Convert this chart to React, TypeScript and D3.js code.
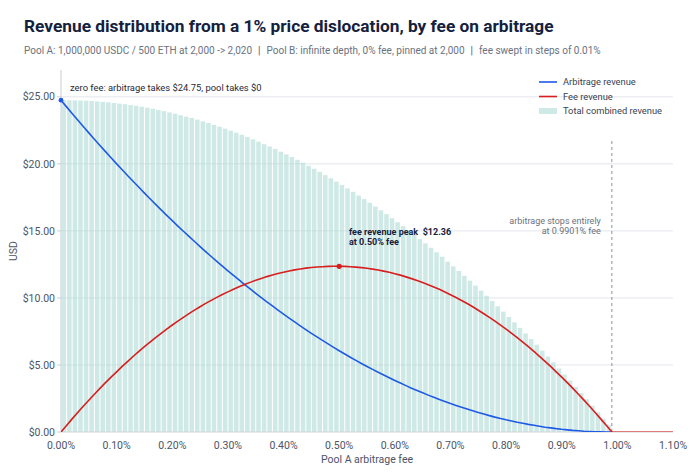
import React, { useEffect } from 'react';
import * as d3 from 'd3';

// swept fee grid, percent (0.00% .. 0.99% in 0.01% steps)
const feeSteps: number[] = d3.range(0, 100).map((i) => i / 100);

// USD captured by the arbitrageur at each fee step
const arbRevenue: number[] = [
  24.75, 24.25, 23.76, 23.27, 22.79, 22.31, 21.84, 21.37, 20.91, 20.45,
  20.0, 19.56, 19.11, 18.68, 18.25, 17.82, 17.4, 16.98, 16.57, 16.16,
  15.76, 15.36, 14.97, 14.59, 14.21, 13.83, 13.46, 13.09, 12.73, 12.37,
  12.02, 11.68, 11.34, 11.0, 10.67, 10.34, 10.02, 9.71, 9.4, 9.09,
  8.79, 8.5, 8.21, 7.92, 7.64, 7.36, 7.09, 6.83, 6.57, 6.31,
  6.06, 5.82, 5.58, 5.34, 5.11, 4.89, 4.67, 4.46, 4.25, 4.04,
  3.84, 3.65, 3.46, 3.27, 3.09, 2.92, 2.75, 2.59, 2.43, 2.27,
  2.12, 1.98, 1.84, 1.71, 1.58, 1.46, 1.34, 1.22, 1.11, 1.01,
  0.91, 0.82, 0.73, 0.65, 0.57, 0.5, 0.43, 0.36, 0.31, 0.25,
  0.2, 0.16, 0.12, 0.09, 0.06, 0.04, 0.02, 0.01, 0.0, 0.0,
];

// USD collected by Pool A as fees at each fee step
const feeRevenue: number[] = [
  0.0, 0.49, 0.98, 1.45, 1.92, 2.37, 2.82, 3.25, 3.68, 4.09,
  4.49, 4.89, 5.27, 5.65, 6.01, 6.36, 6.71, 7.04, 7.36, 7.68,
  7.98, 8.27, 8.55, 8.83, 9.09, 9.34, 9.59, 9.82, 10.04, 10.25,
  10.45, 10.65, 10.83, 11.0, 11.16, 11.31, 11.45, 11.59, 11.71, 11.82,
  11.92, 12.01, 12.09, 12.16, 12.22, 12.27, 12.31, 12.33, 12.35, 12.36,
  12.36, 12.35, 12.33, 12.3, 12.26, 12.21, 12.15, 12.08, 12.0, 11.91,
  11.81, 11.7, 11.57, 11.44, 11.3, 11.15, 10.99, 10.82, 10.64, 10.44,
  10.24, 10.03, 9.81, 9.58, 9.34, 9.08, 8.82, 8.55, 8.27, 7.97,
  7.67, 7.36, 7.04, 6.7, 6.36, 6.01, 5.64, 5.27, 4.89, 4.49,
  4.09, 3.68, 3.25, 2.82, 2.38, 1.92, 1.46, 0.98, 0.5, 0.01,
];

const stopFee = 0.9901;
const axisEndFee = 1.1;
const peakIndex = 50;

const xTicks: number[] = [0, 0.1, 0.2, 0.3, 0.4, 0.5, 0.6, 0.7, 0.8, 0.9, 1.0, 1.1];
const yTicks: number[] = [0, 5, 10, 15, 20, 25];

const legendItems = [
  { label: 'Arbitrage revenue', kind: 'line', color: '#1f5ae6' },
  { label: 'Fee revenue', kind: 'line', color: '#d81e1e' },
  { label: 'Total combined revenue', kind: 'bar', color: '#a3d6cf' },
];

const W = 690;
const H = 474;
const margin = { top: 70, right: 17, bottom: 42, left: 61 };
const FONT = "Roboto, 'Noto Sans', sans-serif";

export default function App() {
  useEffect(() => {
    document.body.style.margin = '0';
  }, []);

  const x = d3.scaleLinear().domain([0, axisEndFee]).range([margin.left, W - margin.right]);
  const y = d3.scaleLinear().domain([0, 27]).range([H - margin.bottom, margin.top]);

  const total = feeSteps.map((f, i) => ({ f, v: arbRevenue[i] + feeRevenue[i] }));
  const step = x(0.01) - x(0);

  const arbPts: [number, number][] = feeSteps.map((f, i) => [f, arbRevenue[i]]);
  arbPts.push([stopFee, 0]);
  const feePts: [number, number][] = feeSteps.map((f, i) => [f, feeRevenue[i]]);
  feePts.push([stopFee, 0]);
  const feeTail: [number, number][] = [
    [stopFee, 0],
    [axisEndFee, 0],
  ];

  const line = d3
    .line<[number, number]>()
    .x((d) => x(d[0]))
    .y((d) => y(d[1]));

  const y0 = y(0);
  const fmtX = (v: number) => `${v.toFixed(2)}%`;
  const fmtY = (v: number) => `$${v.toFixed(2)}`;

  return (
    <div style={{ position: 'absolute', left: 0, top: 0, background: '#fff' }}>
      <svg width={W} height={H} style={{ display: 'block', fontFamily: FONT }}>
        <defs>
          <clipPath id="plot">
            <rect x={margin.left} y={margin.top} width={W - margin.left - margin.right} height={y0 - margin.top} />
          </clipPath>
        </defs>

        <text x={24} y={32} fontSize={17.3} fontWeight={700} fill="#14213d">
          Revenue distribution from a 1% price dislocation, by fee on arbitrage
        </text>
        <text x={24} y={54} fontSize={10} fill="#6b7280">
          Pool A: 1,000,000 USDC / 500 ETH at 2,000 -&gt; 2,020
          <tspan fill="#4b5563" dx={6}>|</tspan>
          <tspan dx={6}>Pool B: infinite depth, 0% fee, pinned at 2,000</tspan>
          <tspan fill="#4b5563" dx={6}>|</tspan>
          <tspan dx={6}>fee swept in steps of 0.01%</tspan>
        </text>

        {/* gridlines */}
        {yTicks.slice(1).map((t) => (
          <line key={t} x1={margin.left} x2={W - margin.right} y1={y(t)} y2={y(t)} stroke="#e4e6ec" strokeWidth={1} />
        ))}

        {/* total bars */}
        <g>
          {total.map((d) => (
            <rect
              key={d.f}
              x={x(d.f) + 0.5}
              y={y(d.v)}
              width={step - 1}
              height={Math.max(0, y0 - y(d.v))}
              fill="#a3d6cf"
              fillOpacity={0.52}
            />
          ))}
        </g>

        {/* axes */}
        <line x1={margin.left} x2={margin.left} y1={margin.top} y2={y0} stroke="#c9cdd5" />
        <line x1={margin.left} x2={W - margin.right} y1={y0} y2={y0} stroke="#cfd3da" strokeWidth={1.2} />
        {yTicks.map((t) => (
          <g key={t}>
            <line x1={margin.left - 4} x2={margin.left} y1={y(t)} y2={y(t)} stroke="#c9cdd5" />
            <text x={margin.left - 6} y={y(t)} dy="0.35em" textAnchor="end" fontSize={10.5} fill="#4b5468">
              {fmtY(t)}
            </text>
          </g>
        ))}
        {xTicks.map((t) => (
          <text key={t} x={x(t)} y={y0 + 17} textAnchor="middle" fontSize={10.5} fill="#4b5468">
            {fmtX(t)}
          </text>
        ))}
        <text x={(margin.left + W - margin.right) / 2} y={H - 11} textAnchor="middle" fontSize={10.5} fill="#4b5468">
          Pool A arbitrage fee
        </text>
        <text
          transform={`translate(17,${(margin.top + y0) / 2}) rotate(-90)`}
          textAnchor="middle"
          fontSize={10.5}
          fill="#4b5468"
        >
          USD
        </text>

        {/* stop marker */}
        <line x1={x(stopFee)} x2={x(stopFee)} y1={141} y2={y0} stroke="#8b909a" strokeWidth={1} strokeDasharray="3,3" />
        <text x={x(stopFee) - 11} y={224} textAnchor="end" fontSize={9} fill="#6b7280">
          arbitrage stops entirely
        </text>
        <text x={x(stopFee) - 11} y={234} textAnchor="end" fontSize={9} fill="#6b7280">
          at 0.9901% fee
        </text>

        {/* lines */}
        <g clipPath="url(#plot)">
          <path d={line(arbPts) || ''} fill="none" stroke="#1f5ae6" strokeWidth={1.6} />
          <path d={line(feePts) || ''} fill="none" stroke="#d81e1e" strokeWidth={1.6} />
          <path d={line(feeTail) || ''} fill="none" stroke="#d81e1e" strokeOpacity={0.55} strokeWidth={2} />
        </g>
        <circle cx={x(0)} cy={y(arbRevenue[0])} r={2.4} fill="#1f5ae6" />
        <circle cx={x(feeSteps[peakIndex])} cy={y(feeRevenue[peakIndex])} r={2.6} fill="#d81e1e" />

        {/* annotations */}
        <text x={70} y={91} fontSize={9.4} fill="#1f2937">
          zero fee: arbitrage takes ${arbRevenue[0].toFixed(2)}, pool takes $0
        </text>
        <text x={349} y={235} fontSize={9} fontWeight={700} fill="#14213d">
          fee revenue peak{'\u00a0\u00a0'}${feeRevenue[peakIndex].toFixed(2)}
        </text>
        <text x={349} y={245} fontSize={9} fontWeight={700} fill="#14213d">
          at {fmtX(feeSteps[peakIndex])} fee
        </text>

        {/* legend */}
        {legendItems.map((item, i) => {
          const ly = 82 + i * 14.5;
          return (
            <g key={item.label}>
              {item.kind === 'line' ? (
                <line x1={539} x2={557} y1={ly} y2={ly} stroke={item.color} strokeWidth={1.6} />
              ) : (
                <rect x={539} y={ly - 3} width={18} height={6} fill={item.color} fillOpacity={0.52} />
              )}
              <text x={563} y={ly} dy="0.35em" fontSize={9.3} fill="#374151">
                {item.label}
              </text>
            </g>
          );
        })}
      </svg>
    </div>
  );
}
